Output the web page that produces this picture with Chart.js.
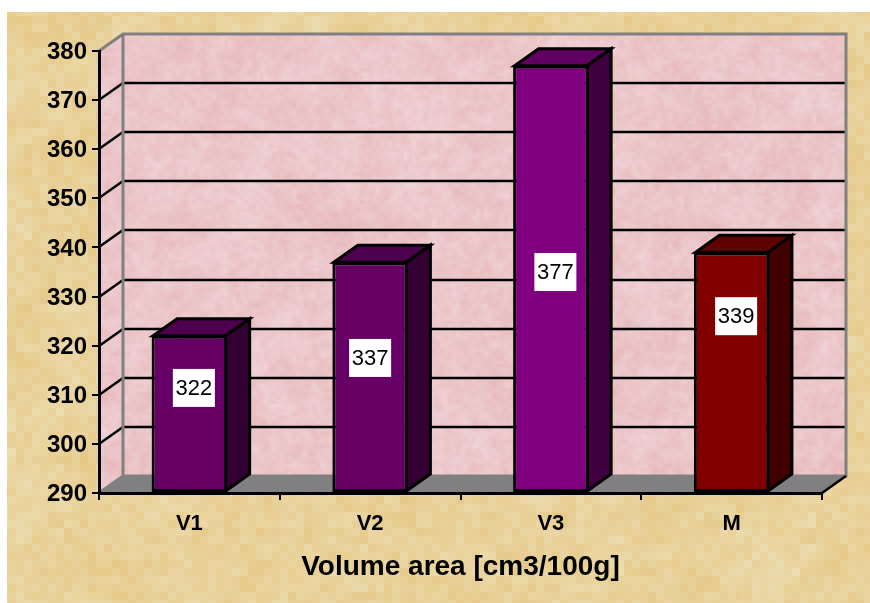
<!DOCTYPE html>
<html>
<head>
<meta charset="utf-8">
<title>Volume area</title>
<script src="https://cdn.jsdelivr.net/npm/chart.js"></script>
<style>
  html, body { margin: 0; background: #fff; }
  canvas { display: block; }
</style>
</head>
<body>
<canvas id="grafica" width="870" height="603"></canvas>
<script>
const categories = ['V1', 'V2', 'V3', 'M'];
const volumes = [322, 337, 377, 339];
// where the white value boxes sit, read in axis units
const labelLevels = [311.4, 317.5, 335, 326];
const labelNudges = [4.5, 0, 4.5, 4.5];
const axisMin = 290;
const axisMax = 380;
const axisStep = 10;
const axisTitle = 'Volume area [cm3/100g]';

const frontColors = ['#660066', '#660066', '#800080', '#800000'];
const topColors = ['#4d004d', '#4d004d', '#600060', '#600000'];
const sideColors = ['#330033', '#330033', '#400040', '#400000'];

// depth of the fake 3D box
const depthX = 24;
const depthY = 17;

function hash(i, j, seed) {
  const v = Math.sin(i * 12.9898 + j * 78.233 + seed * 37.719) * 43758.5453;
  return v - Math.floor(v);
}

// one noise layer on a small canvas, stretched over the whole page
function noiseLayer(g, cell, seed, smooth, alpha, colorAt) {
  const w = Math.ceil(870 / cell), h = Math.ceil(603 / cell);
  const small = document.createElement('canvas');
  small.width = w; small.height = h;
  const s = small.getContext('2d');
  for (let i = 0; i < w; i++) {
    for (let j = 0; j < h; j++) {
      s.fillStyle = colorAt(hash(i, j, seed) * 2 - 1);
      s.fillRect(i, j, 1, 1);
    }
  }
  g.globalAlpha = alpha;
  g.imageSmoothingEnabled = smooth;
  g.drawImage(small, 0, 0, w * cell, h * cell);
  g.globalAlpha = 1;
}

function rgb(r, g, b) {
  return `rgb(${Math.round(r)}, ${Math.round(g)}, ${Math.round(b)})`;
}

// blocky papyrus behind the chart
function paperTexture() {
  const c = document.createElement('canvas');
  c.width = 870; c.height = 603;
  const g = c.getContext('2d');
  const tan = n => rgb(233 + n * 4, 210 + n * 12, 155 + n * 24);
  noiseLayer(g, 48, 2, true, 1, tan);
  noiseLayer(g, 16, 3, false, 0.5, tan);
  noiseLayer(g, 8, 1, false, 0.4, tan);
  return c;
}

// soft marbled pink for the walls
function marbleTexture() {
  const c = document.createElement('canvas');
  c.width = 870; c.height = 603;
  const g = c.getContext('2d');
  const pink = n => rgb(236 + n * 5, 199 + n * 18, 202 + n * 18);
  noiseLayer(g, 30, 6, true, 1, pink);
  noiseLayer(g, 10, 7, true, 0.5, pink);
  noiseLayer(g, 4, 5, true, 0.4, pink);
  return c;
}

const paper = paperTexture();
const marble = marbleTexture();

function poly(ctx, pts, fill, stroke, lw) {
  ctx.beginPath();
  pts.forEach((p, i) => i ? ctx.lineTo(p[0], p[1]) : ctx.moveTo(p[0], p[1]));
  ctx.closePath();
  if (fill) { ctx.fillStyle = fill; ctx.fill(); }
  if (stroke) {
    ctx.strokeStyle = stroke;
    ctx.lineWidth = lw;
    ctx.lineJoin = 'miter';
    ctx.stroke();
  }
}

const room = {
  id: 'room',
  beforeDraw(chart) {
    const { ctx, chartArea: a, scales: { y } } = chart;
    const dx = depthX, dy = depthY;
    ctx.save();
    ctx.drawImage(paper, 7, 12, 863, 591, 7, 12, 863, 591);

    // walls
    ctx.beginPath();
    ctx.moveTo(a.left, a.top);
    ctx.lineTo(a.left + dx, a.top - dy);
    ctx.lineTo(a.right + dx, a.top - dy);
    ctx.lineTo(a.right + dx, a.bottom - dy);
    ctx.lineTo(a.left + dx, a.bottom - dy);
    ctx.lineTo(a.left, a.bottom);
    ctx.closePath();
    ctx.save();
    ctx.clip();
    ctx.drawImage(marble, 0, 0);
    ctx.restore();

    // floor
    poly(ctx, [[a.left, a.bottom], [a.left + dx, a.bottom - dy], [a.right + dx, a.bottom - dy], [a.right, a.bottom]], '#808080');

    // grid lines on back and side wall
    ctx.lineCap = 'butt';
    for (let v = axisMin + axisStep; v < axisMax; v += axisStep) {
      const py = Math.round(y.getPixelForValue(v));
      ctx.beginPath();
      ctx.moveTo(a.left, py);
      ctx.lineTo(a.left + dx, py - dy);
      ctx.lineTo(a.right + dx, py - dy);
      ctx.strokeStyle = '#000';
      ctx.lineWidth = 2.5;
      ctx.stroke();
    }

    // gray frame of the room
    ctx.beginPath();
    ctx.moveTo(a.left, a.top);
    ctx.lineTo(a.left + dx, a.top - dy);
    ctx.lineTo(a.right + dx, a.top - dy);
    ctx.lineTo(a.right + dx, a.bottom - dy);
    ctx.lineTo(a.left + dx, a.bottom - dy);
    ctx.lineTo(a.left, a.bottom);
    ctx.moveTo(a.left + dx, a.top - dy);
    ctx.lineTo(a.left + dx, a.bottom - dy);
    ctx.strokeStyle = '#808080';
    ctx.lineWidth = 3;
    ctx.stroke();

    // right edge of the floor
    ctx.beginPath();
    ctx.moveTo(a.right, a.bottom);
    ctx.lineTo(a.right + dx, a.bottom - dy);
    ctx.strokeStyle = '#000';
    ctx.lineWidth = 2.5;
    ctx.stroke();
    ctx.restore();
  },
  beforeDatasetsDraw(chart) {
    const { ctx } = chart;
    const dx = depthX, dy = depthY;
    ctx.save();
    chart.getDatasetMeta(0).data.forEach((bar, i) => {
      const l = bar.x - bar.width / 2 + 1.5, r = bar.x + bar.width / 2 - 1.5;
      const t = bar.y, b = bar.base - 1;
      poly(ctx, [[l, t], [l + dx, t - dy], [r + dx, t - dy], [r, t]], topColors[i], '#000', 3);
      poly(ctx, [[r, t], [r + dx, t - dy], [r + dx, b - dy], [r, b]], sideColors[i], '#000', 3);
    });
    ctx.restore();
  },
  afterDatasetsDraw(chart) {
    const { ctx, scales: { y } } = chart;
    ctx.save();
    ctx.font = '22px "Liberation Sans"';
    ctx.textAlign = 'center';
    ctx.textBaseline = 'middle';
    chart.getDatasetMeta(0).data.forEach((bar, i) => {
      const cx = bar.x + labelNudges[i];
      const cy = y.getPixelForValue(labelLevels[i]);
      ctx.fillStyle = '#fff';
      ctx.fillRect(cx - 21, cy - 19, 42, 38);
      ctx.fillStyle = '#000';
      ctx.fillText(String(volumes[i]), cx, cy + 1);
    });
    ctx.restore();
  }
};

new Chart(document.getElementById('grafica'), {
  type: 'bar',
  data: {
    labels: categories,
    datasets: [{
      data: volumes,
      base: axisMin,
      backgroundColor: frontColors,
      borderColor: '#000',
      borderWidth: 3,
      borderSkipped: false,
      categoryPercentage: 0.418,
      barPercentage: 1
    }]
  },
  plugins: [room],
  options: {
    responsive: false,
    animation: false,
    layout: { padding: { left: 0, top: 51, right: 48, bottom: 0 } },
    plugins: { legend: { display: false }, tooltip: { enabled: false } },
    scales: {
      x: {
        grid: { drawOnChartArea: false, color: '#000', lineWidth: 2, tickLength: 7, offset: true },
        border: { color: '#000', width: 3 },
        ticks: { color: '#000', padding: 11, maxRotation: 0, font: { family: '"Liberation Sans"', size: 22, weight: 'bold' } },
        title: {
          display: true,
          text: axisTitle,
          color: '#000',
          padding: { top: 16, bottom: 19 },
          font: { family: '"Liberation Sans"', size: 28, weight: 'bold' }
        },
        afterFit(s) { s.height = 110; }
      },
      y: {
        min: axisMin,
        max: axisMax,
        grid: { drawOnChartArea: false, color: '#000', lineWidth: 2, tickLength: 7 },
        border: { color: '#000', width: 3 },
        ticks: {
          stepSize: axisStep,
          color: '#000',
          padding: 5,
          labelOffset: 1.5,
          font: { family: '"Liberation Sans"', size: 24, weight: 'bold' }
        },
        afterFit(s) { s.width = 99; }
      }
    }
  }
});
</script>
</body>
</html>
